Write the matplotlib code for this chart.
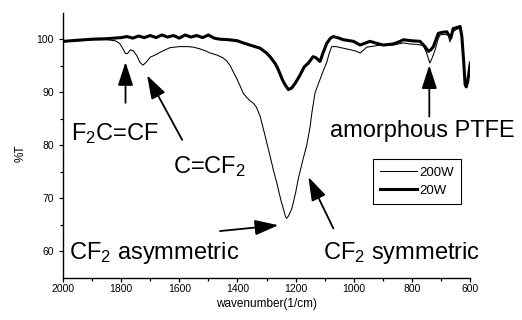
import matplotlib
matplotlib.use('Agg')
import matplotlib.pyplot as plt
from matplotlib.ticker import FixedLocator

plt.rcParams['font.family'] = ['Liberation Sans', 'DejaVu Sans']
plt.rcParams['mathtext.default'] = 'regular'

# 200W spectrum (thin line)
wn_200 = [2000, 1950, 1900, 1850, 1820, 1805, 1795, 1785, 1778, 1768, 1758, 1745,
          1735, 1725, 1715, 1700, 1680, 1660, 1632, 1600, 1570, 1552, 1530, 1510,
          1494, 1470, 1450, 1437, 1425, 1414, 1400, 1391, 1380, 1368, 1355, 1345,
          1335, 1322, 1305, 1288, 1275, 1265, 1250, 1242, 1235, 1231, 1225, 1213,
          1200, 1191, 1175, 1162, 1150, 1144, 1133, 1116, 1105, 1093, 1085, 1076,
          1060, 1036, 1010, 990, 978, 965, 955, 930, 910, 864, 829, 806,
          780, 761, 750, 738, 730, 720, 710, 703, 690, 675, 669, 662,
          658, 646, 634, 628, 622, 617, 613, 608, 603, 599]
t_200 = [99.5, 99.7, 99.9, 99.9, 99.7, 99.2, 98.3, 97.3, 97.3, 98.0, 97.8, 96.8,
         95.6, 95.1, 95.6, 96.6, 97.1, 97.7, 98.4, 98.6, 98.6, 98.5, 98.2, 97.8,
         97.4, 97.0, 96.5, 95.9, 95.0, 93.8, 92.3, 91.2, 89.8, 89.0, 88.3, 87.9,
         87.2, 85.5, 81.8, 78.0, 75.0, 73.0, 69.5, 68.0, 66.6, 66.2, 66.6, 68.0,
         71.0, 73.6, 77.2, 79.9, 83.5, 86.1, 89.9, 92.4, 94.0, 95.6, 97.2, 98.6,
         98.6, 98.3, 98.0, 97.7, 97.4, 98.0, 98.5, 98.7, 98.9, 98.9, 99.3, 99.1,
         99.0, 98.8, 97.5, 95.5, 96.5, 98.0, 100.0, 100.8, 100.9, 100.8, 99.5, 101.0,
         101.4, 101.9, 102.0, 100.5, 96.0, 91.5, 91.0, 92.0, 94.0, 95.5]

# 20W spectrum (thick line)
wn_20 = [2000, 1950, 1900, 1850, 1800, 1780, 1760, 1740, 1720, 1700, 1680, 1660,
         1640, 1620, 1600, 1580, 1560, 1540, 1520, 1500, 1480, 1460, 1430, 1400,
         1380, 1357, 1322, 1300, 1288, 1270, 1259, 1245, 1236, 1225, 1213, 1200,
         1185, 1170, 1156, 1140, 1130, 1116, 1105, 1093, 1080, 1070, 1050, 1036,
         1001, 978, 944, 920, 898, 864, 840, 829, 800, 772, 755, 743,
         735, 726, 709, 695, 680, 666, 658, 645, 634, 628, 622, 617,
         613, 608, 603, 599]
t_20 = [99.6, 99.8, 100.0, 100.1, 100.3, 100.5, 100.2, 100.6, 100.3, 100.7, 100.3, 100.8,
        100.4, 100.7, 100.2, 100.8, 100.4, 100.7, 100.3, 100.8, 100.2, 100.0, 99.9, 99.7,
        99.3, 98.9, 98.3, 97.4, 96.7, 95.4, 94.2, 92.3, 91.4, 90.5, 90.8, 91.8,
        93.2, 94.8, 95.5, 96.7, 96.5, 95.8, 97.5, 99.2, 100.2, 100.5, 100.2, 99.9,
        99.6, 98.9, 99.6, 99.2, 98.9, 99.1, 99.6, 99.9, 99.7, 99.6, 98.6, 97.7,
        98.0, 98.6, 101.1, 101.3, 101.4, 100.2, 102.0, 102.2, 102.4, 100.5, 96.0, 91.5,
        91.0, 92.0, 94.0, 95.5]

fig = plt.figure(figsize=(5.22, 3.2), dpi=100)
ax = fig.add_axes([0.1207, 0.1322, 0.7797, 0.8281])

ax.plot(wn_200, t_200, color='black', lw=0.75, label='200W', solid_joinstyle='round')
ax.plot(wn_20, t_20, color='black', lw=2.2, label='20W', solid_joinstyle='round')

ax.set_xlim(2000, 600)
ax.set_ylim(55, 105)
ax.xaxis.set_major_locator(FixedLocator(range(2000, 599, -200)))
ax.xaxis.set_minor_locator(FixedLocator(range(1900, 699, -200)))
ax.yaxis.set_major_locator(FixedLocator([60, 70, 80, 90, 100]))
ax.yaxis.set_minor_locator(FixedLocator([65, 75, 85, 95]))
ax.tick_params(which='major', direction='out', length=3.2, width=0.9, labelsize=7.5, pad=1.5)
ax.tick_params(axis='y', which='major', pad=3.5)
ax.tick_params(which='minor', direction='out', length=2.2, width=0.9)

for s in ['top', 'right']:
    ax.spines[s].set_visible(False)
for s in ['left', 'bottom']:
    ax.spines[s].set_linewidth(1.0)

ax.set_xlabel('wavenumber(1/cm)', fontsize=8.5, labelpad=3)
fig.text(0.04, 0.52, '%T', rotation=90, fontsize=8.5, ha='center', va='center')

leg = ax.legend(loc='upper left', bbox_to_anchor=(0.761, 0.447), fontsize=9.5,
                fancybox=False, edgecolor='black', framealpha=1, borderpad=0.55,
                labelspacing=0.42, handlelength=2.8, handletextpad=0.15,
                borderaxespad=0)
leg.get_frame().set_linewidth(0.8)

arrow = dict(arrowstyle='-|>,head_length=0.8,head_width=0.26', mutation_scale=18,
             color='black', lw=1.3, shrinkA=0, shrinkB=0)
fs = 17

ax.text(1972, 81.0, 'F$_2$C=CF', fontsize=fs, va='baseline')
ax.annotate('', xy=(1785, 95.7), xytext=(1785, 88.0), arrowprops=arrow)

ax.text(1621, 74.7, 'C=CF$_2$', fontsize=fs, va='baseline')
ax.annotate('', xy=(1711, 93.2), xytext=(1590, 81.0), arrowprops=arrow)

ax.text(1979, 58.6, 'CF$_2$ asymmetric', fontsize=fs, va='baseline')
ax.annotate('', xy=(1259, 64.9), xytext=(1460, 63.8), arrowprops=arrow)

ax.text(1105, 58.6, 'CF$_2$ symmetric', fontsize=fs, va='baseline')
ax.annotate('', xy=(1156, 74.0), xytext=(1070, 64.3), arrowprops=arrow)

ax.text(1081, 81.5, 'amorphous PTFE', fontsize=fs, va='baseline')
ax.annotate('', xy=(740, 95.1), xytext=(740, 85.4), arrowprops=arrow)

fig.savefig('out.png', dpi=100)
